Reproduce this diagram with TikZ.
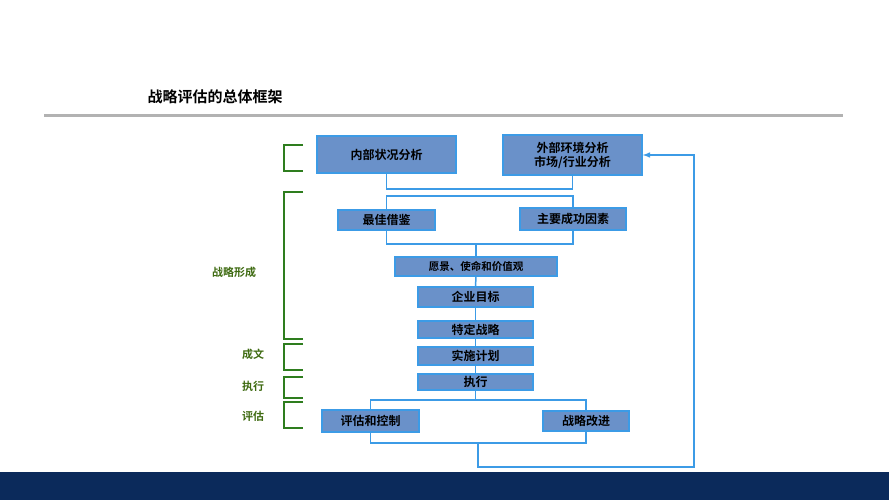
\documentclass[tikz,border=0pt]{standalone}
\usepackage{fontspec}
\setmainfont{Noto Sans CJK SC}[BoldFont={* Bold}]
\newfontfamily\cjkb{Noto Sans CJK SC Bold}
\begin{document}
\begin{tikzpicture}[x=1pt,y=-1pt,
 bx/.style={draw=boxline,line width=1.5pt,fill=boxfill,inner sep=0pt,font=\cjkb\fontsize{12}{14}\selectfont},
 ln/.style={draw=boxline,line width=1.5pt},
 br/.style={draw=brgreen,line width=1.5pt},
 lab/.style={font=\cjkb\fontsize{11}{13}\selectfont,text=labgreen}]
\definecolor{boxfill}{HTML}{6A91C9}
\definecolor{boxline}{HTML}{3C9BE6}
\definecolor{brgreen}{HTML}{2E7D1E}
\definecolor{labgreen}{HTML}{3F6B12}
\definecolor{navy}{HTML}{0B2A5B}
\useasboundingbox (0,0) rectangle (889,500);
\fill[white] (0,0) rectangle (889,500);
\fill[navy] (0,472) rectangle (889,500);
\node[anchor=west,font=\cjkb\fontsize{15}{17}\selectfont] (title) at (144,97) {战略评估的总体框架};
\draw[line width=3pt,gray!60] (44,116) -- (843,116);
% boxes
\node[bx,minimum width=139pt,minimum height=37pt] (nb) at (386.5,154.5) {内部状况分析};
\node[bx,minimum width=139pt,minimum height=40pt,align=center] (wb) at (572.5,155) {外部环境分析\\市场/行业分析};
\node[bx,minimum width=97pt,minimum height=20pt] (zj) at (386.5,220) {最佳借鉴};
\node[bx,minimum width=106pt,minimum height=22pt] (cg) at (573,219) {主要成功因素};
\node[bx,minimum width=162pt,minimum height=19pt,font=\cjkb\fontsize{10.5}{12}\selectfont] (yj) at (476,266.5) {愿景、使命和价值观};
\node[bx,minimum width=115pt,minimum height=20pt] (qy) at (475.5,297) {企业目标};
\node[bx,minimum width=115pt,minimum height=17pt] (td) at (475.5,329.5) {特定战略};
\node[bx,minimum width=115pt,minimum height=18pt] (ss) at (475.5,356) {实施计划};
\node[bx,minimum width=115pt,minimum height=16pt] (zx) at (475.5,382) {执行};
\node[bx,minimum width=97pt,minimum height=22pt] (pg) at (370.5,421) {评估和控制};
\node[bx,minimum width=86pt,minimum height=20pt] (gj) at (586,421) {战略改进};
% connectors
\draw[ln] (nb.south) -- (386.5,189) -| (wb.south);
\draw[ln] (zj.north) -- (386.5,196) -| (cg.north);
\draw[ln] (zj.south) -- (386.5,244) -| (cg.south);
\draw[ln] (476,244) -- (yj.north);
\draw[ln] (yj.south) -- (qy.north);
\draw[ln] (qy.south) -- (td.north);
\draw[ln] (td.south) -- (ss.north);
\draw[ln] (ss.south) -- (zx.north);
\draw[ln] (zx.south) -- (475.5,400);
\draw[ln] (pg.north) -- (370.5,400) -| (gj.north);
\draw[ln] (pg.south) -- (370.5,443) -| (gj.south);
\coordinate (rt) at (694,155);
\draw[ln,-latex] (478,443) -- (478,467) -| (rt) -- (wb.east);
% brackets
\draw[br] (303,145) -- (284,145) -- (284,171) -- (303,171);
\draw[br] (303,192) -- (284,192) -- (284,339) -- (303,339);
\draw[br] (303,344) -- (284,344) -- (284,370) -- (303,370);
\draw[br] (303,377) -- (284,377) -- (284,398) -- (303,398);
\draw[br] (303,402) -- (284,402) -- (284,428) -- (303,428);
\node[lab] (l1) at (234,272) {战略形成};
\node[lab] (l2) at (253,354) {成文};
\node[lab] (l3) at (253,386) {执行};
\node[lab] (l4) at (253,416) {评估};
\end{tikzpicture}
\end{document}
